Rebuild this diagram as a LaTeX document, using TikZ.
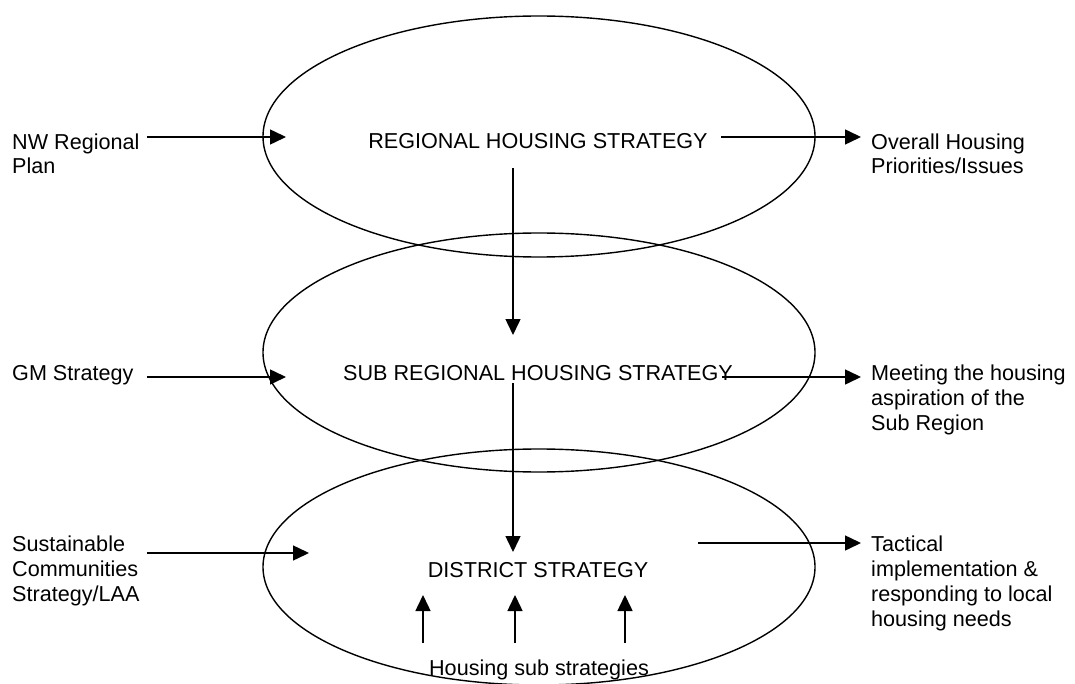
\documentclass[tikz,border=0pt]{standalone}
\usepackage{fontspec}
\setmainfont{Liberation Sans}
\usetikzlibrary{arrows.meta,shapes.geometric}
\begin{document}
\begin{tikzpicture}[x=1pt,y=-1pt,
  lvl/.style={draw,line width=1.4pt,ellipse,minimum width=552pt,inner sep=0pt},
  lbl/.style={font=\fontsize{21.6}{24.7}\selectfont,inner sep=0pt,align=left,anchor=base west},
  ttl/.style={font=\fontsize{21.6}{24.7}\selectfont,inner sep=0pt,anchor=base},
  flow/.style={line width=1.5pt,-{Triangle[length=16pt,width=15pt]}}]
\useasboundingbox (0,0) rectangle (1075,684);

% the three strategy levels
\node[lvl,minimum height=241pt] (reg) at (539,136.5) {};
\node[lvl,minimum height=239pt] (sub) at (539,352.5) {};
\node[lvl,minimum height=236pt] (dis) at (539,567) {};

% level titles
\node[ttl] (regT) at (538,149) {REGIONAL HOUSING STRATEGY};
\node[ttl] (subT) at (538,380) {SUB REGIONAL HOUSING STRATEGY};
\node[ttl] (disT) at (538,577) {DISTRICT STRATEGY};
\node[ttl] (hss) at (539,675) {Housing sub strategies};

% inputs on the left (base = last line)
\node[lbl] (nw) at (12,174) {NW Regional\\Plan};
\node[lbl] (gm) at (12,380) {GM Strategy};
\node[lbl] (scs) at (12,601) {Sustainable\\Communities\\Strategy/LAA};

% outcomes on the right (base = last line)
\node[lbl] (ohp) at (871,174) {Overall Housing\\Priorities/Issues};
\node[lbl] (mha) at (871,430) {Meeting the housing\\aspiration of the\\Sub Region};
\node[lbl] (tac) at (871,626) {Tactical\\implementation \&\\responding to local\\housing needs};

% connector end points
\coordinate (nwA) at (147,137);   \coordinate (nwB) at (286,137);
\coordinate (ohA) at (721,137);   \coordinate (ohB) at (861,137);
\coordinate (rdA) at (513,168);   \coordinate (rdB) at (513,335);
\coordinate (gmA) at (147,377);   \coordinate (gmB) at (286,377);
\coordinate (mhA) at (722,377);   \coordinate (mhB) at (861,377);
\coordinate (sdA) at (513,383);   \coordinate (sdB) at (513,552);
\coordinate (scA) at (147,553);   \coordinate (scB) at (309,553);
\coordinate (taA) at (698,543);   \coordinate (taB) at (861,543);
\coordinate (u1A) at (423,643);   \coordinate (u1B) at (423,595);
\coordinate (u2A) at (515,643);   \coordinate (u2B) at (515,595);
\coordinate (u3A) at (625,643);   \coordinate (u3B) at (625,595);

% flows
\draw[flow] (nwA) -- (nwB);
\draw[flow] (ohA) -- (ohB);
\draw[flow] (rdA) -- (rdB);
\draw[flow] (gmA) -- (gmB);
\draw[flow] (mhA) -- (mhB);
\draw[flow] (sdA) -- (sdB);
\draw[flow] (scA) -- (scB);
\draw[flow] (taA) -- (taB);
\draw[flow] (u1A) -- (u1B);
\draw[flow] (u2A) -- (u2B);
\draw[flow] (u3A) -- (u3B);
\end{tikzpicture}
\end{document}
